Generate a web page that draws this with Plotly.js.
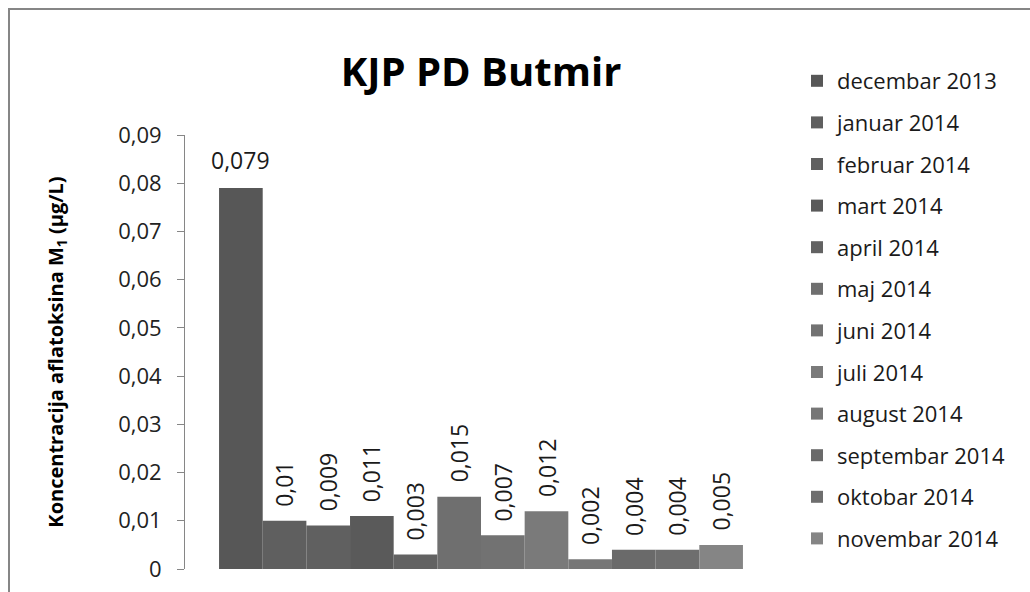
<!DOCTYPE html>
<html>
<head>
<meta charset="utf-8">
<script src="https://cdn.plot.ly/plotly-3.0.1.min.js"></script>
<style>
html,body{margin:0;padding:0;background:#fff;}
#chart{width:1030px;height:592px;}
</style>
</head>
<body>
<div id="chart"></div>
<script>
// Data
var months = ["decembar 2013","januar 2014","februar 2014","mart 2014","april 2014","maj 2014","juni 2014","juli 2014","august 2014","septembar 2014","oktobar 2014","novembar 2014"];
var values = [0.079,0.01,0.009,0.011,0.003,0.015,0.007,0.012,0.002,0.004,0.004,0.005];
var colors = ["#575757","#5f5f5f","#606060","#5a5a5a","#626262","#6f6f6f","#727272","#7a7a7a","#777777","#6a6a6a","#6e6e6e","#858585"];
var tickVals = [0,0.01,0.02,0.03,0.04,0.05,0.06,0.07,0.08,0.09];
var tickText = ["0","0,01","0,02","0,03","0,04","0,05","0,06","0,07","0,08","0,09"];

var FONT = "Open Sans, Noto Sans, sans-serif";
function fmt(v){ return String(v).replace(".", ","); }

var traces = months.map(function(m, i){
  return {
    type: "bar",
    name: m,
    x: [i],
    y: [values[i]],
    width: 1,
    legendgroup: "g" + i,
    marker: {color: colors[i], line: {width: 0}},
    hoverinfo: "name+y"
  };
});

var annotations = months.map(function(m, i){
  return {
    x: i, y: values[i], xref: "x", yref: "y",
    text: fmt(values[i]),
    showarrow: false,
    textangle: i === 0 ? 0 : -90,
    xanchor: "center", yanchor: "bottom",
    yshift: i === 0 ? 10 : 12,
    font: {family: FONT, size: 23, color: "#1a1a1a"}
  };
});

// plot area in pixels: left 185, right 777, top 135, bottom 569
function px2x(p){ return (p - 185) / 592; }
function py2y(p){ return (569 - p) / 434; }

var layout = {
  width: 1030,
  height: 592,
  margin: {l: 185, r: 253, t: 135, b: 23, pad: 0},
  paper_bgcolor: "#ffffff",
  plot_bgcolor: "#ffffff",
  barmode: "overlay",
  showlegend: true,
  font: {family: FONT, color: "#1a1a1a"},
  title: {
    text: "<b>KJP PD Butmir</b>",
    font: {family: FONT, size: 40, color: "#000000"},
    xref: "paper", x: 0.5, xanchor: "center",
    yref: "container", y: 1 - 72/592, yanchor: "middle"
  },
  xaxis: {
    visible: false,
    range: [-1.28, 12.28],
    fixedrange: true
  },
  yaxis: {
    range: [0, 0.09],
    tickvals: tickVals,
    ticktext: tickText,
    showgrid: false,
    zeroline: false,
    showline: true,
    linecolor: "#868686",
    linewidth: 1,
    ticks: "outside",
    ticklen: 7,
    tickcolor: "#868686",
    ticklabelstandoff: 11,
    tickfont: {family: FONT, size: 22, color: "#222222"},
    title: {
      text: "<b>Koncentracija aflatoksina M<sub>1</sub> (µg/L)</b>",
      font: {family: FONT, size: 20, color: "#000000"},
      standoff: 49
    },
    fixedrange: true
  },
  legend: {
    x: px2x(797), xanchor: "left",
    y: py2y(60), yanchor: "top",
    traceorder: "grouped",
    tracegroupgap: 10,
    itemwidth: 30,
    maxheight: 580,
    bgcolor: "rgba(0,0,0,0)",
    font: {family: FONT, size: 22, color: "#1a1a1a"}
  },
  annotations: annotations,
  shapes: [{
    type: "rect",
    xref: "paper", yref: "paper",
    x0: px2x(9), x1: px2x(1100),
    y0: py2y(650), y1: py2y(9),
    line: {color: "#868686", width: 2},
    fillcolor: "rgba(0,0,0,0)",
    layer: "below"
  }]
};

Plotly.newPlot("chart", traces, layout, {displayModeBar: false, staticPlot: true});
</script>
</body>
</html>
